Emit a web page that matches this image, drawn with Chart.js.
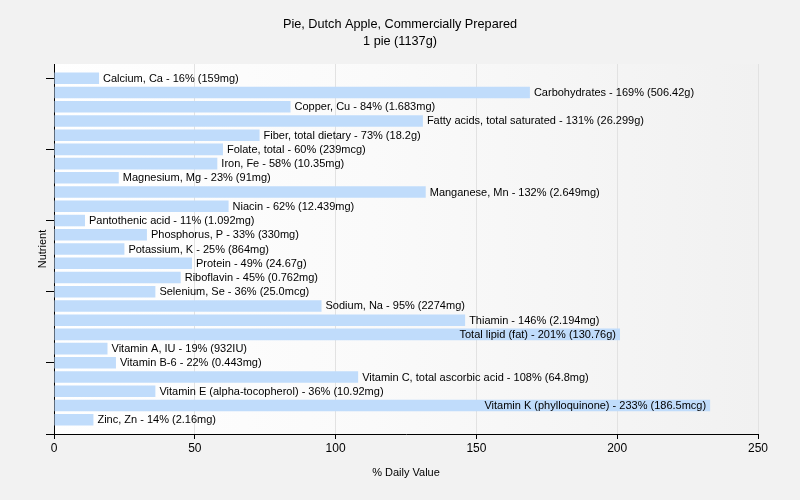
<!DOCTYPE html>
<html>
<head>
<meta charset="utf-8">
<script src="https://cdn.jsdelivr.net/npm/chart.js@4/dist/chart.umd.min.js"></script>
<style>
  html, body { margin: 0; padding: 0; background: #f2f2f2; }
  #wrap { width: 800px; height: 500px; }
</style>
</head>
<body>
<div id="wrap"><canvas id="grafico" width="800" height="500"></canvas></div>
<script>
const nutrientes = [
  'Calcium, Ca', 'Carbohydrates', 'Copper, Cu', 'Fatty acids, total saturated',
  'Fiber, total dietary', 'Folate, total', 'Iron, Fe', 'Magnesium, Mg',
  'Manganese, Mn', 'Niacin', 'Pantothenic acid', 'Phosphorus, P',
  'Potassium, K', 'Protein', 'Riboflavin', 'Selenium, Se', 'Sodium, Na',
  'Thiamin', 'Total lipid (fat)', 'Vitamin A, IU', 'Vitamin B-6',
  'Vitamin C, total ascorbic acid', 'Vitamin E (alpha-tocopherol)',
  'Vitamin K (phylloquinone)', 'Zinc, Zn'
];
const percentuais = [16, 169, 84, 131, 73, 60, 58, 23, 132, 62, 11, 33, 25, 49, 45, 36, 95, 146, 201, 19, 22, 108, 36, 233, 14];
const quantidades = [
  '159mg', '506.42g', '1.683mg', '26.299g', '18.2g', '239mcg', '10.35mg', '91mg',
  '2.649mg', '12.439mg', '1.092mg', '330mg', '864mg', '24.67g', '0.762mg',
  '25.0mcg', '2274mg', '2.194mg', '130.76g', '932IU', '0.443mg', '64.8mg',
  '10.92mg', '186.5mcg', '2.16mg'
];
const ticksX = [0, 50, 100, 150, 200, 250];
const ticksY = [0, 5, 10, 15, 20, 25];

const fonte = '"Liberation Sans", Arial, sans-serif';

const fundoPlugin = {
  id: 'fundo',
  beforeDraw(chart) {
    const { ctx, chartArea: a } = chart;
    ctx.save();
    ctx.fillStyle = '#f2f2f2';
    ctx.fillRect(0, 0, chart.width, chart.height);
    const g = ctx.createLinearGradient(a.left, 0, a.right, 0);
    g.addColorStop(0, '#ffffff');
    g.addColorStop(0.45, '#fafafa');
    g.addColorStop(1, '#f1f1f1');
    ctx.fillStyle = g;
    ctx.fillRect(a.left, a.top, a.right - a.left, a.bottom - a.top);
    ctx.restore();
  }
};

const rotulosPlugin = {
  id: 'rotulos',
  afterDatasetsDraw(chart) {
    const { ctx, chartArea: a } = chart;
    const meta = chart.getDatasetMeta(0);
    ctx.save();
    ctx.font = '11px ' + fonte;
    ctx.fillStyle = '#000';
    ctx.textBaseline = 'middle';
    meta.data.forEach((bar, i) => {
      const texto = `${nutrientes[i]} - ${percentuais[i]}% (${quantidades[i]})`;
      const w = ctx.measureText(texto).width;
      if (bar.x + 4 + w > a.right) {
        ctx.textAlign = 'right';
        ctx.fillText(texto, bar.x - 4, bar.y + 0.5);
      } else {
        ctx.textAlign = 'left';
        ctx.fillText(texto, bar.x + 4, bar.y + 0.5);
      }
    });
    ctx.restore();
  }
};

new Chart(document.getElementById('grafico').getContext('2d'), {
  type: 'bar',
  data: {
    datasets: [{
      data: percentuais.map((v, i) => ({ x: v, y: i })),
      backgroundColor: '#c0dcfb',
      borderWidth: 0,
      barPercentage: 1,
      categoryPercentage: 0.81
    }]
  },
  options: {
    indexAxis: 'y',
    responsive: false,
    animation: false,
    layout: { padding: 0 },
    scales: {
      x: {
        type: 'linear',
        position: 'bottom',
        min: 0,
        max: 250,
        afterBuildTicks: s => { s.ticks = ticksX.map(v => ({ value: v })); },
        afterFit: s => { s.height = 66; },
        ticks: { color: '#000', font: { family: fonte, size: 12 }, padding: 2 },
        grid: {
          color: ctx => ctx.tick && ctx.tick.value === 0 ? 'rgba(0,0,0,0)' : '#e2e2e2',
          tickColor: '#000',
          tickLength: 5
        },
        border: { color: '#000', width: 1 },
        title: {
          display: true,
          text: '% Daily Value',
          color: '#000',
          font: { family: fonte, size: 11 },
          padding: { top: 0, bottom: 20 }
        }
      },
      y: {
        type: 'linear',
        position: 'left',
        reverse: true,
        min: -1,
        max: 25,
        offset: false,
        afterBuildTicks: s => { s.ticks = ticksY.map(v => ({ value: v })); },
        afterFit: s => { s.width = 54; },
        ticks: { display: false },
        grid: {
          offset: false,
          drawOnChartArea: false,
          tickColor: '#000',
          tickLength: 8
        },
        border: { color: '#000', width: 1 },
        title: {
          display: true,
          text: 'Nutrient',
          color: '#000',
          font: { family: fonte, size: 11 },
          padding: { top: 36, bottom: 0 }
        }
      },
      margemDireita: {
        type: 'linear',
        position: 'right',
        display: true,
        afterFit: s => { s.width = 42; },
        ticks: { display: false },
        grid: { display: false },
        border: { display: false }
      }
    },
    plugins: {
      legend: { display: false },
      tooltip: { enabled: false },
      title: {
        display: true,
        text: ['Pie, Dutch Apple, Commercially Prepared', '1 pie (1137g)'],
        color: '#000',
        font: { family: fonte, size: 12.7, weight: 'normal', lineHeight: '17px' },
        padding: { top: 16, bottom: 14 }
      }
    }
  },
  plugins: [fundoPlugin, rotulosPlugin]
});
</script>
</body>
</html>
